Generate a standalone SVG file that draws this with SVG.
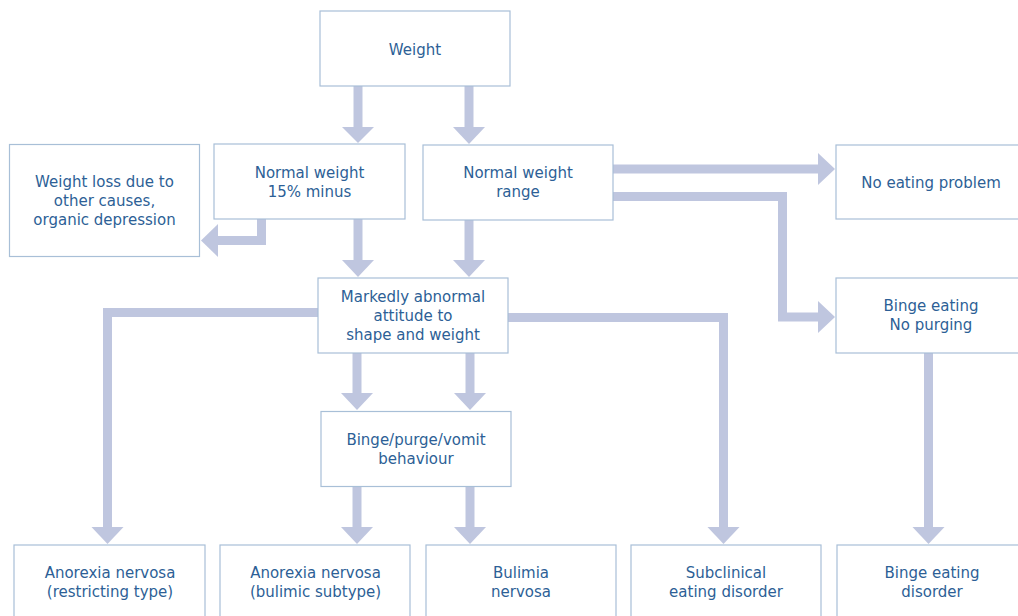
<svg xmlns="http://www.w3.org/2000/svg" width="1018" height="616" viewBox="0 0 1018 616">
<style>
.box{fill:#ffffff;stroke:#a8bfd7;stroke-width:1.2}
.t{font-family:"DejaVu Sans",sans-serif;font-size:15px;fill:#2d5f96;text-anchor:middle}
.sh{fill:none;stroke:#bfc6df;stroke-width:9;stroke-linejoin:miter}
.hd{fill:#bfc6df}
</style>
<rect width="1018" height="616" fill="#ffffff"/>
<g id="connectors">
<path class="sh" d="M358,86V128"/><polygon class="hd" points="342,127 374,127 358,143"/>
<path class="sh" d="M469,86V128"/><polygon class="hd" points="453,127 485,127 469,144"/>
<path class="sh" d="M261.5,219V240.5H217"/><polygon class="hd" points="218,224 218,257 201,240.5"/>
<path class="sh" d="M358,219V261"/><polygon class="hd" points="342,260 374,260 358,277"/>
<path class="sh" d="M469,220V261"/><polygon class="hd" points="453,260 485,260 469,277"/>
<path class="sh" d="M613,169H819"/><polygon class="hd" points="818,153 818,185 835,169"/>
<path class="sh" d="M613,196.5H782.5V317H819"/><polygon class="hd" points="818,301 818,333 835,317"/>
<path class="sh" d="M318,312.5H107.5V528"/><polygon class="hd" points="91.5,527 123.5,527 107.5,544"/>
<path class="sh" d="M508,317.5H723.5V528"/><polygon class="hd" points="707.5,527 739.5,527 723.5,544"/>
<path class="sh" d="M357,353V394"/><polygon class="hd" points="341,393 373,393 357,410"/>
<path class="sh" d="M470,353V394"/><polygon class="hd" points="454,393 486,393 470,410"/>
<path class="sh" d="M357,486V528"/><polygon class="hd" points="341,527 373,527 357,544"/>
<path class="sh" d="M470,486V528"/><polygon class="hd" points="454,527 486,527 470,544"/>
<path class="sh" d="M928.5,353V528"/><polygon class="hd" points="912.5,527 944.5,527 928.5,544"/>
</g>
<g id="weight"><rect class="box" x="320" y="11" width="190" height="75"/><text class="t" x="415" y="55">Weight</text></g>
<g id="nw15"><rect class="box" x="214" y="144" width="191" height="75"/><text class="t" x="309.5" y="178">Normal weight</text><text class="t" x="309.5" y="197">15% minus</text></g>
<g id="nwr"><rect class="box" x="423" y="145" width="190" height="75"/><text class="t" x="518" y="178">Normal weight</text><text class="t" x="518" y="197">range</text></g>
<g id="wloss"><rect class="box" x="9.5" y="144.5" width="190" height="112"/><text class="t" x="104.5" y="187">Weight loss due to</text><text class="t" x="104.5" y="206">other causes,</text><text class="t" x="104.5" y="225">organic depression</text></g>
<g id="noeat"><rect class="box" x="836" y="145" width="190" height="74"/><text class="t" x="931" y="188">No eating problem</text></g>
<g id="marked"><rect class="box" x="318" y="278" width="190" height="75"/><text class="t" x="413" y="302">Markedly abnormal</text><text class="t" x="413" y="321">attitude to</text><text class="t" x="413" y="340">shape and weight</text></g>
<g id="bingenp"><rect class="box" x="836" y="278" width="190" height="75"/><text class="t" x="931" y="311">Binge eating</text><text class="t" x="931" y="330">No purging</text></g>
<g id="bpv"><rect class="box" x="321" y="411.5" width="190" height="75"/><text class="t" x="416" y="445">Binge/purge/vomit</text><text class="t" x="416" y="464">behaviour</text></g>
<g id="anr"><rect class="box" x="14" y="545" width="191" height="80"/><text class="t" x="110" y="578">Anorexia nervosa</text><text class="t" x="110" y="597">(restricting type)</text></g>
<g id="anb"><rect class="box" x="220" y="545" width="190" height="80"/><text class="t" x="315.5" y="578">Anorexia nervosa</text><text class="t" x="315.5" y="597">(bulimic subtype)</text></g>
<g id="bul"><rect class="box" x="426" y="545" width="190" height="80"/><text class="t" x="521" y="578">Bulimia</text><text class="t" x="521" y="597">nervosa</text></g>
<g id="sub"><rect class="box" x="631" y="545" width="190" height="80"/><text class="t" x="726" y="578">Subclinical</text><text class="t" x="726" y="597">eating disorder</text></g>
<g id="bed"><rect class="box" x="837" y="545" width="190" height="80"/><text class="t" x="932" y="578">Binge eating</text><text class="t" x="932" y="597">disorder</text></g>
</svg>
